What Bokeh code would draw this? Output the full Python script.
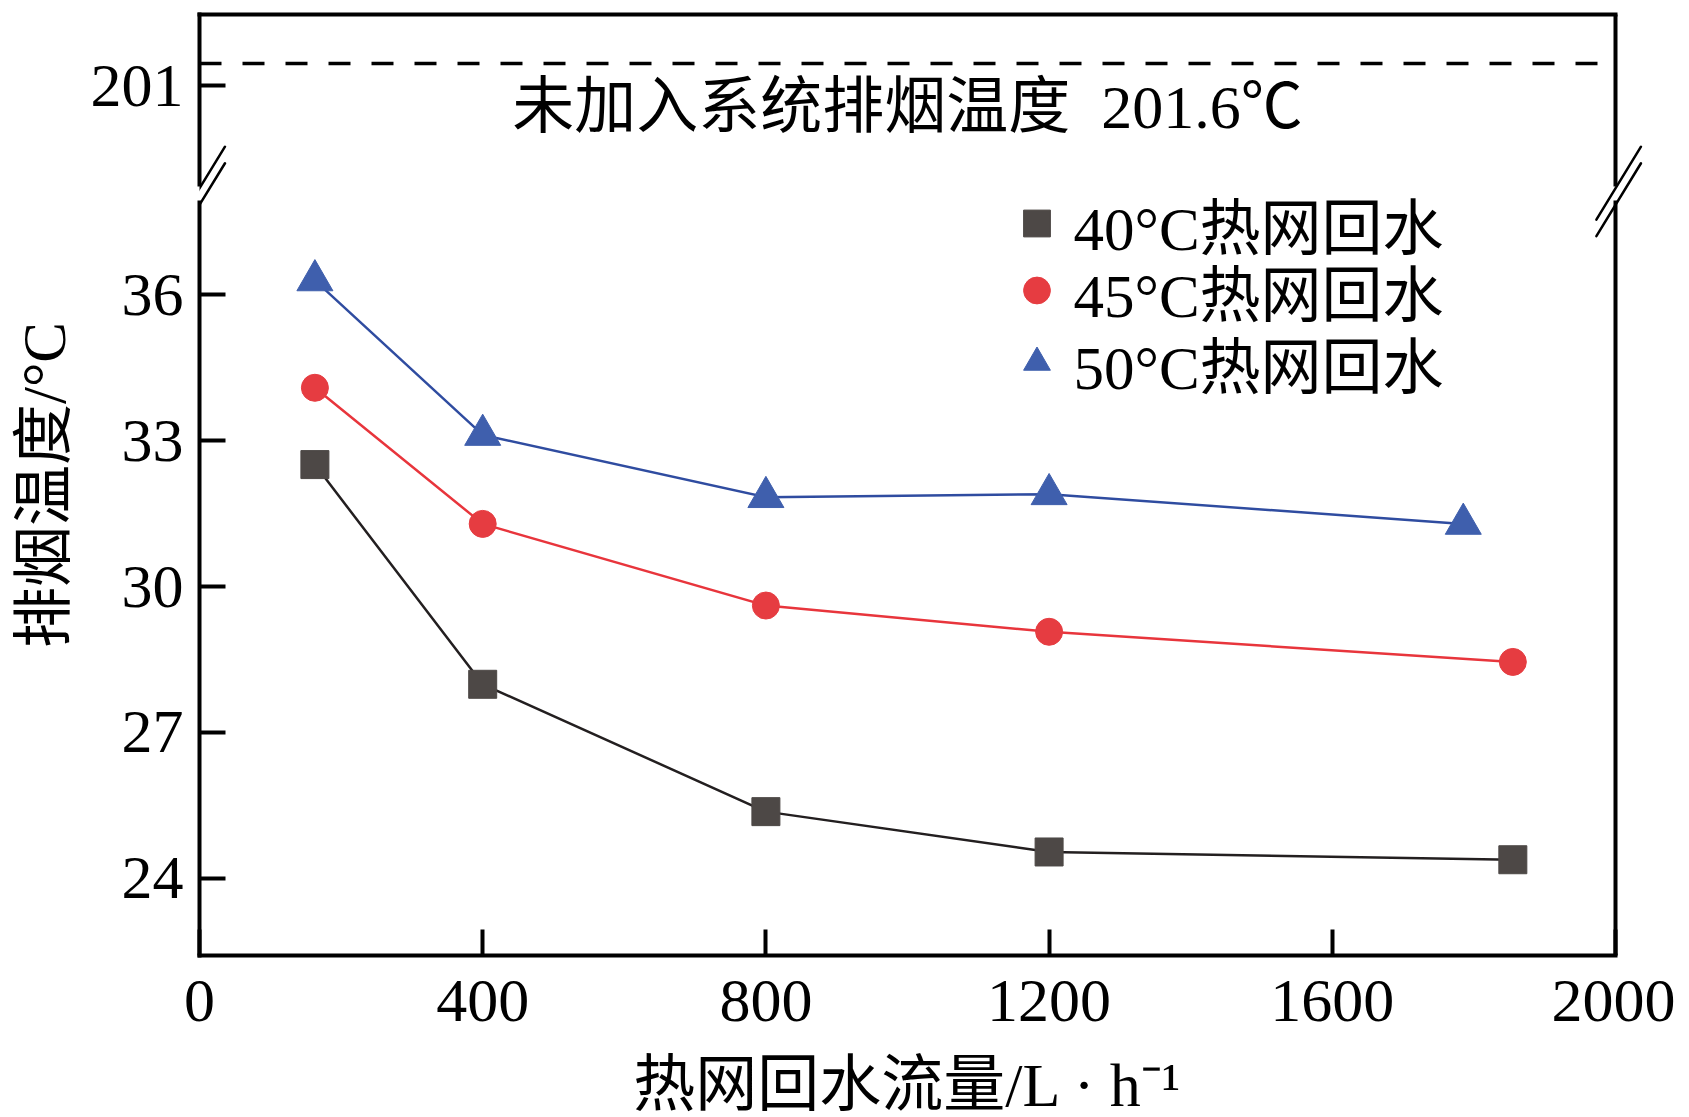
from bokeh.plotting import figure
from bokeh.models import (Range1d, FixedTicker, Label, Legend, LegendItem, Arrow,
                          LinearAxis)
from bokeh.embed import file_html
from bokeh.resources import INLINE

# ---------------- data ----------------
flow_40 = [163, 400, 800, 1200, 1855]
temp_40 = [32.51, 27.99, 25.37, 24.54, 24.38]
flow_45 = [163, 400, 800, 1200, 1855]
temp_45 = [34.09, 31.29, 29.61, 29.07, 28.45]
flow_50 = [163, 400, 800, 1200, 1785]
temp_50 = [36.30, 33.12, 31.84, 31.90, 31.29]
baseline_temp = 201.6
series_labels = ["40°C热网回水", "45°C热网回水", "50°C热网回水"]
x_ticks = [0, 400, 800, 1200, 1600, 2000]
y_ticks_low = [24, 27, 30, 33, 36]
y_tick_high = 201
annot_text = "未加入系统排烟温度 \u00a0201.6℃"
x_title = "热网回水流量/L · h⁻¹\u2002"
y_title = "排烟温度/°C"

# ---------------- layout constants ----------------
X_BOX = (0, 2000)              # the drawn plot box
BOX_W, BOX_H = 1416, 941       # box size in px
RIGHT_PAD = 32                 # frame extends past the right edge (room for the break mark)
X_END = X_BOX[1] + RIGHT_PAD * (X_BOX[1] - X_BOX[0]) / BOX_W
LO_RANGE = (22.41, 41.77)      # lower (broken) section range, mapped to full frame
UP_RANGE = (177.27, 202.94)    # upper section range, mapped to full frame
LO_BREAK = 37.90               # lower edge segments stop here (lower range)
UP_BREAK = 198.30              # upper edge segments start here (upper range)
SERIF = "Liberation Serif, Noto Sans CJK SC"
FS = "62px"

def lo_from_up(v):
    f = (v - UP_RANGE[0]) / (UP_RANGE[1] - UP_RANGE[0])
    return round(LO_RANGE[0] + f * (LO_RANGE[1] - LO_RANGE[0]), 4)

p = figure(frame_width=BOX_W + RIGHT_PAD, frame_height=BOX_H,
           x_range=Range1d(X_BOX[0], X_END), y_range=Range1d(*LO_RANGE),
           output_backend="svg", toolbar_location=None,
           min_border_left=199, min_border_right=60 - RIGHT_PAD,
           min_border_top=14, min_border_bottom=160,
           background_fill_color="white", border_fill_color="white")
p.extra_y_ranges = {"upper": Range1d(*UP_RANGE)}
p.outline_line_color = None
p.xgrid.visible = False
p.ygrid.visible = False

# ---- left axis (lower range; the "201" tick mapped from the upper range)
t201 = lo_from_up(y_tick_high)
ya = p.yaxis[0]
ya.ticker = FixedTicker(ticks=y_ticks_low + [t201])
ya.major_label_overrides = {t201: str(y_tick_high)}
ya.axis_line_color = None
ya.major_tick_in = 26
ya.major_tick_out = 0
ya.major_tick_line_width = 4
ya.major_tick_line_color = "black"
ya.minor_tick_line_color = None
ya.major_label_text_font = SERIF
ya.major_label_text_font_size = FS
ya.major_label_text_color = "black"
ya.major_label_standoff = 16
ya.axis_label = y_title
ya.axis_label_text_font = SERIF
ya.axis_label_text_font_size = "61px"
ya.axis_label_text_font_style = "normal"
ya.axis_label_text_color = "black"
ya.axis_label_standoff = 10

# ---- bottom axis (line limited to the box)
xa = p.xaxis[0]
xa.ticker = FixedTicker(ticks=x_ticks)
xa.bounds = X_BOX
xa.axis_line_width = 4
xa.axis_line_color = "black"
xa.axis_line_cap = "square"
xa.major_tick_in = 26
xa.major_tick_out = 0
xa.major_tick_line_width = 4
xa.major_tick_line_color = "black"
xa.minor_tick_line_color = None
xa.major_label_text_font = SERIF
xa.major_label_text_font_size = FS
xa.major_label_text_color = "black"
xa.major_label_standoff = 25
xa.axis_label = x_title
xa.axis_label_text_font = SERIF
xa.axis_label_text_font_size = FS
xa.axis_label_text_font_style = "normal"
xa.axis_label_text_color = "black"
xa.axis_label_standoff = 27

# ---- frame edges: tick-less axes on top / left, segments on the right
def edge_axis(bounds, y_name=None):
    kw = dict(ticker=FixedTicker(ticks=[]), major_tick_in=0, major_tick_out=0,
              minor_tick_in=0, minor_tick_out=0, major_label_standoff=0,
              axis_line_width=4, axis_line_color="black", axis_line_cap="square",
              bounds=bounds)
    if y_name is not None:
        kw["y_range_name"] = y_name
    return LinearAxis(**kw)

p.add_layout(edge_axis(X_BOX), "above")
left_lo = edge_axis((LO_RANGE[0], LO_BREAK))
left_up = edge_axis((UP_BREAK, UP_RANGE[1]), "upper")
p.left = [left_lo, left_up] + list(p.left)

def seg(x0, y0, x1, y1, rng=None, w=4, dash="solid", cap="square"):
    kw = dict(end=None, x_start=x0, y_start=y0, x_end=x1, y_end=y1,
              line_width=w, line_color="black", line_cap=cap, line_dash=dash)
    if rng:
        kw["y_range_name"] = rng
    p.add_layout(Arrow(**kw))

seg(X_BOX[1], UP_BREAK, X_BOX[1], UP_RANGE[1], "upper")      # right edge, upper part
seg(X_BOX[1], LO_RANGE[0], X_BOX[1], LO_BREAK)               # right edge, lower part

# ---- break marks "//" on both edges
BRK_DX = (-27, 36)
BRK_Y = (37.55, 39.05)
BRK_GAP = 0.34
for xe in X_BOX:
    for k in (0, 1):
        seg(xe + BRK_DX[0], BRK_Y[0] - k * BRK_GAP, xe + BRK_DX[1], BRK_Y[1] - k * BRK_GAP,
            w=2.5, cap="round")

# ---- baseline (upper section)
seg(X_BOX[0], baseline_temp, X_BOX[1], baseline_temp, "upper", w=3.5, dash="22 21", cap="butt")
p.add_layout(Label(x=sum(X_BOX) / 2, y=y_tick_high, y_range_name="upper",
                   text=annot_text, text_align="center", text_baseline="middle",
                   y_offset=-21, text_font=SERIF, text_font_size="62px",
                   text_color="black"))

# ---- data
C40_LINE, C40_MARK = "#231f20", "#4d4846"
C45_LINE, C45_MARK = "#e8353c", "#e63c41"
C50_LINE, C50_MARK = "#2f4ca0", "#3f5fad"

p.line(flow_40, temp_40, line_color=C40_LINE, line_width=2.5)
p.line(flow_45, temp_45, line_color=C45_LINE, line_width=2.5)
p.line(flow_50, temp_50, line_color=C50_LINE, line_width=2.5)
r40 = p.scatter(flow_40, temp_40, marker="square", size=28,
                fill_color=C40_MARK, line_color=C40_MARK)
r45 = p.scatter(flow_45, temp_45, marker="circle", size=27,
                fill_color=C45_MARK, line_color=C45_MARK)
r50 = p.scatter(flow_50, temp_50, marker="triangle", size=36,
                fill_color=C50_MARK, line_color=C50_MARK)

# one single-row legend per series, so each row sits exactly where it should
LEG_X = 803.5
LEG_Y = [682, 615, 543]
for lab, rend, ly in zip(series_labels, [r40, r45, r50], LEG_Y):
    lg = Legend(items=[LegendItem(label=lab, renderers=[rend])],
                location=(LEG_X, ly), orientation="vertical",
                glyph_width=67, glyph_height=100, label_standoff=4, spacing=0,
                padding=0, margin=0, border_line_color=None,
                background_fill_alpha=0, label_text_font=SERIF,
                label_text_font_size="61px", label_text_color="black")
    p.add_layout(lg)

open("out.html", "w").write(file_html(p, INLINE))
